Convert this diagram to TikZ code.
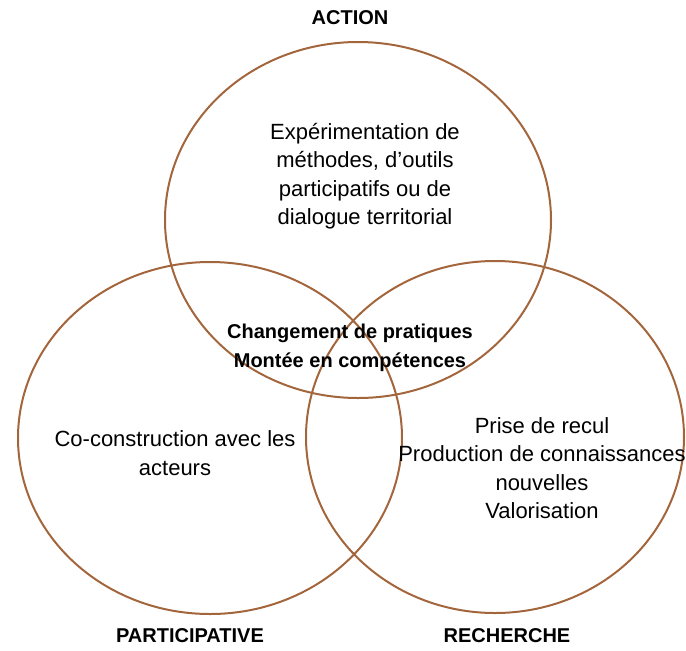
\documentclass[tikz,border=0pt]{standalone}
\usepackage{fontspec}
\setmainfont{Liberation Sans}
\usetikzlibrary{positioning}

\definecolor{ringbrown}{RGB}{163,102,60}

\begin{document}
\begin{tikzpicture}[
    x=0.5pt, y=-0.5pt,
    ring/.style={draw=ringbrown, line width=1pt},
    pole/.style={font=\fontsize{10}{12}\selectfont\bfseries, inner sep=0pt},
    zonetext/.style={align=center, font=\fontsize{11}{14.2}\selectfont, inner sep=0pt},
    coretext/.style={align=center, font=\fontsize{10}{14.4}\selectfont\bfseries, inner sep=0pt}
]
\useasboundingbox (0,0) rectangle (686,650);

% the three sets
\draw [ring] (358,220) ellipse [x radius=193, y radius=178];
\draw [ring] (210,438) ellipse [x radius=192, y radius=176];
\draw [ring] (495,437) ellipse [x radius=189, y radius=176];

% set names
\node (action) [pole] at (350,18) {ACTION};
\node (participative) [pole] at (190,636) {PARTICIPATIVE};
\node (recherche) [pole] at (507,636) {RECHERCHE};

% contents
\node (experimentation) [zonetext] at (365,176) {Expérimentation de\\méthodes, d’outils\\participatifs ou de\\dialogue territorial};
\node (coconstruction) [zonetext] at (175,453) {Co-construction avec les\\acteurs};
\node (recul) [zonetext] at (542,468) {Prise de recul\\Production de connaissances\\nouvelles\\Valorisation};
\node (changement) [coretext] at (350,348) {Changement de pratiques\\Montée en compétences};
\end{tikzpicture}
\end{document}
